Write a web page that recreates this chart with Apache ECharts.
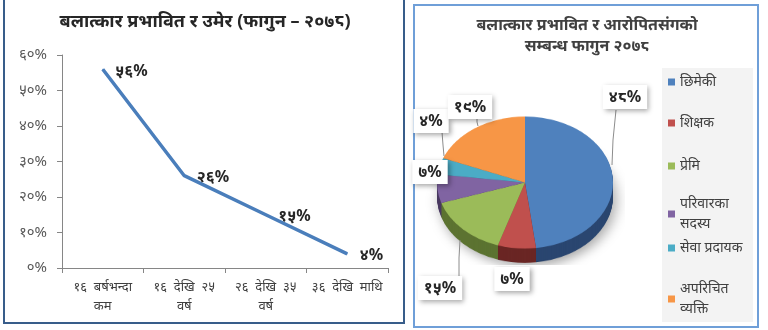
<!DOCTYPE html>
<html lang="ne">
<head>
<meta charset="UTF-8">
<title>बलात्कार प्रभावित</title>
<script src="https://cdn.jsdelivr.net/npm/echarts@6/dist/echarts.min.js"></script>
<style>
    body { margin: 0; width: 768px; height: 330px; overflow: hidden; background: #fff; position: relative; }
    .box-left { position: absolute; left: 3px; top: -6px; width: 402px; height: 330px; border: 2px solid #385d8a; box-sizing: border-box; }
    .box-right { position: absolute; left: 413px; top: 4px; width: 346px; height: 324px; border: 2px solid #6f9fd8; box-sizing: border-box; }
    #pie3d { position: absolute; left: 425px; top: 90px; width: 200px; height: 200px; transform: scaleY(0.75); transform-origin: center center; }
    #main { position: absolute; left: 0; top: 0; width: 768px; height: 330px; }
</style>
</head>
<body>
<div class="box-left"></div>
<div class="box-right"></div>
<div id="pie3d"></div>
<div id="main"></div>

<script>
    // बायाँ: उमेर अनुसार
    var ageCats = ['१६  बर्षभन्दा\nकम', '१६  देखि  २५\nवर्ष', '२६  देखि  ३५\nवर्ष', '३६  देखि  माथि']
    var ageValues = [56, 26, 15, 4]
    var ageLabels = ['५६%', '२६%', '१५%', '४%']
    var yTickLabels = ['०%', '१०%', '२०%', '३०%', '४०%', '५०%', '६०%']

    // दायाँ: आरोपितसंगको सम्बन्ध
    var relNames = ['छिमेकी', 'शिक्षक', 'प्रेमि', 'परिवारका\nसदस्य', 'सेवा प्रदायक', 'अपरिचित\nव्यक्ति']
    var relValues = [48, 7, 15, 7, 4, 19]
    var relLabels = ['४८%', '७%', '१५%', '७%', '४%', '१९%']

    var topColors = ['#4f81bd', '#c0504d', '#9bbb59', '#8064a2', '#4bacc6', '#f79646']
    var sideColors = ['#2a4670', '#6a2624', '#5c7331', '#4a3a62', '#2a6a7b', '#9a5a22']

    var font = 'Noto Sans, sans-serif'

    // label boxes and leader lines (page px)
    var labelPos = [[625, 97], [512, 279], [440, 288], [430, 172], [431, 121], [470, 107]]
    var linePts = [
        [[616, 110], [613, 140], [612, 165]],
        [[512, 279], [512, 279], [512, 279]],
        [[459, 277], [459, 258], [460, 240]],
        [[430, 172], [430, 172], [430, 172]],
        [[442, 132], [443, 145], [444, 156]],
        [[477, 118], [477, 122], [478, 126]]
    ]
    var legendTop = [72, 113, 156, 194, 238, 279]

    // 3D pie: stacked layers, container squashed by css
    var pieChart = echarts.init(document.getElementById('pie3d'))
    var pieSeries = []
    var depth = 19
    for (let d = depth; d >= 0; d--) {
        pieSeries.push({
            type: 'pie',
            center: [100, 90 + d],
            radius: 88,
            startAngle: 90,
            silent: true,
            animation: false,
            label: { show: false },
            labelLine: { show: false },
            emphasis: { disabled: true },
            itemStyle: d === depth
                ? { borderWidth: 0, shadowBlur: 14, shadowColor: 'rgba(0,0,0,0.35)', shadowOffsetX: 3, shadowOffsetY: 5 }
                : { borderWidth: 0 },
            data: relNames.map((n, i) => ({
                name: n,
                value: relValues[i],
                itemStyle: { color: d === 0 ? topColors[i] : sideColors[i] }
            }))
        })
    }
    pieChart.setOption({ animation: false, series: pieSeries })

    var myChart = echarts.init(document.getElementById('main'))

    var legends = relNames.map((n, i) => ({
        data: [n],
        orient: 'vertical',
        left: 668,
        top: legendTop[i],
        padding: 0,
        itemWidth: 7,
        itemHeight: 7,
        icon: 'rect',
        selectedMode: false,
        itemStyle: { opacity: 1 },
        textStyle: { fontFamily: font, fontSize: 14, color: '#404040', lineHeight: 20 }
    }))

    option = {
        animation: false,
        textStyle: { fontFamily: font },
        title: [
            {
                text: 'बलात्कार प्रभावित र उमेर (फागुन – २०७८)',
                left: 205, top: 13, padding: 0, textAlign: 'center',
                textStyle: { fontFamily: font, fontSize: 18, fontWeight: 'bold', color: '#262626' }
            },
            {
                text: 'बलात्कार प्रभावित र आरोपितसंगको\nसम्बन्ध फागुन २०७८',
                left: 587, top: 15, padding: 0, textAlign: 'center',
                textStyle: { fontFamily: font, fontSize: 16, fontWeight: 'bold', color: '#404040', lineHeight: 21 }
            }
        ],
        graphic: [
            { type: 'rect', z: -1, shape: { x: 662, y: 68, width: 91, height: 254 }, style: { fill: '#f3f3f3' } }
        ],
        legend: legends,
        grid: { left: 62, top: 55, width: 326, height: 213 },
        xAxis: {
            type: 'category',
            data: ageCats,
            axisLine: { lineStyle: { color: '#868686', width: 1 } },
            axisTick: { show: true, length: 5, lineStyle: { color: '#868686' } },
            axisLabel: { interval: 0, color: '#404040', fontSize: 13, lineHeight: 19, margin: 10 },
            splitLine: { show: false }
        },
        yAxis: {
            type: 'value',
            min: 0,
            max: 60,
            interval: 10,
            axisLine: { show: true, lineStyle: { color: '#868686', width: 1 } },
            axisTick: { show: true, length: 5, lineStyle: { color: '#868686' } },
            axisLabel: { color: '#595959', fontSize: 15, margin: 15, formatter: v => yTickLabels[Math.round(v / 10)] },
            splitLine: { show: false }
        },
        series: [
            {
                type: 'line',
                data: ageValues,
                symbol: 'circle',
                symbolSize: 1,
                itemStyle: { color: '#4a7ebb' },
                lineStyle: { color: '#4a7ebb', width: 3.5 },
                label: {
                    show: true,
                    position: 'right',
                    distance: 12,
                    offset: [0, 2],
                    fontSize: 16,
                    fontWeight: 'bold',
                    color: '#262626',
                    formatter: p => ageLabels[p.dataIndex]
                }
            },
            {
                // only carries the boxed percent labels and legend entries
                type: 'pie',
                center: [525, 182],
                radius: [0, 1],
                startAngle: 90,
                silent: true,
                data: relNames.map((n, i) => ({ name: n, value: relValues[i], itemStyle: { color: topColors[i] } })),
                label: {
                    show: true,
                    formatter: p => relLabels[p.dataIndex],
                    fontSize: 16,
                    fontWeight: 'bold',
                    color: '#262626',
                    backgroundColor: '#fff',
                    padding: [4, 6],
                    shadowColor: 'rgba(0,0,0,0.35)',
                    shadowBlur: 5,
                    shadowOffsetX: 2,
                    shadowOffsetY: 2
                },
                labelLine: { show: true, lineStyle: { color: '#8c8c8c', width: 1 } },
                labelLayout: p => ({
                    x: labelPos[p.dataIndex][0],
                    y: labelPos[p.dataIndex][1],
                    align: 'center',
                    verticalAlign: 'middle',
                    labelLinePoints: linePts[p.dataIndex]
                })
            }
        ]
    };
    myChart.setOption(option);
</script>
</body>
</html>
